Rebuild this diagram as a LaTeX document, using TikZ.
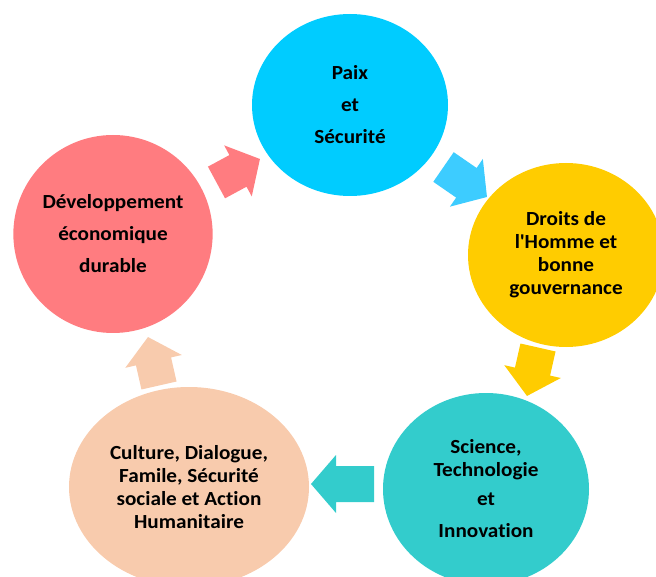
\documentclass[tikz,border=0pt]{standalone}
\usepackage{fontspec}
\setmainfont{Carlito}[FakeStretch=1.06, Ligatures={NoCommon}]
\usetikzlibrary{shapes.geometric}

\definecolor{paixblue}{HTML}{00CCFF}
\definecolor{arrowblue}{HTML}{3DCCFF}
\definecolor{droitsyellow}{HTML}{FFCC00}
\definecolor{sciteal}{HTML}{33CCCC}
\definecolor{culturepeach}{HTML}{F8CBAD}
\definecolor{devpink}{HTML}{FF7C80}

\tikzset{
  pillar/.style={ellipse, inner sep=0pt, align=center,
    font=\fontsize{20}{23}\selectfont\bfseries},
}

% block arrow: colour, tail x, tail y, angle, length
\newcommand{\cyclearrow}[5]{%
  \fill[#1, shift={(#2,#3)}, rotate=#4]
    (0,-18) -- ({#5-25},-18) -- ({#5-25},-29) -- (#5,0)
    -- ({#5-25},29) -- ({#5-25},18) -- (0,18) -- cycle;}

\begin{document}
\begin{tikzpicture}[x=1pt,y=-1pt]
  \useasboundingbox (0,0) rectangle (656,577);

  \node[pillar, fill=paixblue, minimum width=196pt, minimum height=182pt]
    (paix) at (350,105) {Paix\\[9pt]et\\[9pt]Sécurité};
  \node[pillar, fill=droitsyellow, minimum width=196pt, minimum height=184pt]
    (droits) at (566,255) {Droits de\\l\textquotesingle Homme et\\bonne\\gouvernance};
  \node[pillar, fill=sciteal, minimum width=206pt, minimum height=192pt]
    (science) at (486,489) {Science,\\Technologie\\[6pt]et\\[9pt]Innovation};
  \node[pillar, fill=culturepeach, minimum width=240pt, minimum height=200pt]
    (culture) at (189,487) {Culture, Dialogue,\\Famile, Sécurité\\sociale et Action\\Humanitaire};
  \node[pillar, fill=devpink, minimum width=196pt, minimum height=198pt]
    (dev) at (113,234) {Développement\\[9pt]économique\\[9pt]durable};

  % arrows between the pillars
  \cyclearrow{devpink}{216.5}{182.5}{28.4}{49.4}
  \cyclearrow{arrowblue}{443.5}{167}{-34.6}{52.8}
  \cyclearrow{droitsyellow}{538}{347.5}{-102.8}{49.7}
  \cyclearrow{sciteal}{374}{484}{180}{63}
  \cyclearrow{culturepeach}{159}{385.5}{102.8}{49.7}
\end{tikzpicture}
\end{document}
